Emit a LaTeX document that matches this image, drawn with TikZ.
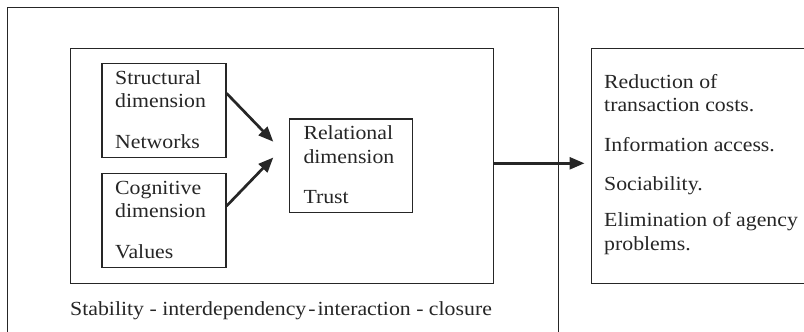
\documentclass[tikz,border=0pt]{standalone}
\usepackage{fontspec}
\setmainfont[FakeStretch=1.09]{Liberation Serif}
\usetikzlibrary{arrows.meta}
\definecolor{ink}{HTML}{262626}
\tikzset{
  boxx/.style={draw=ink, line width=1.3pt, rectangle, inner sep=0pt, anchor=north west},
  txt/.style={anchor=base west, inner sep=0pt, text=ink, font=\fontsize{20}{24}\selectfont},
  bigarrow/.style={draw=ink, line width=2.7pt, -{Triangle[length=15pt,width=12pt]}},
}
\begin{document}
\begin{tikzpicture}[x=1pt,y=-1pt]
\clip (0,0) rectangle (804,332);
\fill[white] (0,0) rectangle (804,332);
% boxes
\node[boxx, minimum width=551pt, minimum height=345pt] (outer) at (7,7) {};
\node[boxx, minimum width=423pt, minimum height=235pt] (inner) at (70,47.7) {};
\node[boxx, minimum width=124pt, minimum height=94pt] (struct) at (101.3,62.7) {};
\node[boxx, minimum width=124pt, minimum height=94pt] (cogn) at (101.3,172.7) {};
\node[boxx, minimum width=123pt, minimum height=93.7pt] (rel) at (288.7,118.3) {};
\node[boxx, minimum width=240pt, minimum height=235pt] (res) at (590.7,47.7) {};
% texts
\node[txt] (t1) at (115,84) {Structural};
\node[txt] (t2) at (115,107.5) {dimension};
\node[txt] (t3) at (115,148.3) {Networks};
\node[txt] (t4) at (115,194) {Cognitive};
\node[txt] (t5) at (115,217.5) {dimension};
\node[txt] (t6) at (115,258.3) {Values};
\node[txt] (t7) at (303.3,139.5) {Relational};
\node[txt] (t8) at (303.3,163.5) {dimension};
\node[txt] (t9) at (303.3,203.5) {Trust};
\node[txt] (r1) at (604,88.5) {Reduction of};
\node[txt] (r2) at (604,111.5) {transaction costs.};
\node[txt] (r3) at (604,151.7) {Information access.};
\node[txt] (r4) at (604,190) {Sociability.};
\node[txt] (r5) at (604,226.5) {Elimination of agency};
\node[txt] (r6) at (604,250) {problems.};
\node[txt] (bt) at (70,315) {Stability - interdependency\hspace{2pt}-\hspace{2pt}interaction - closure};
% arrows
\coordinate (a1) at (273.3,141.7);
\coordinate (a2) at (273.3,157.5);
\coordinate (a3) at (584.5,163.3);
\draw[bigarrow] (struct.east |- 0,93.3) -- (a1);
\draw[bigarrow] (cogn.east |- 0,206) -- (a2);
\draw[bigarrow] (inner.east |- 0,163.3) -- (a3);
\end{tikzpicture}
\end{document}
